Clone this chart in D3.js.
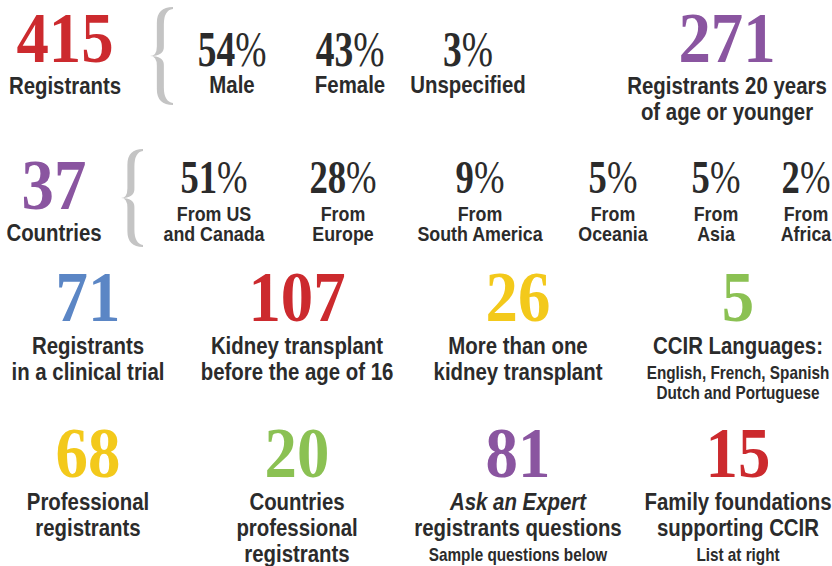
<!DOCTYPE html>
<html>
<head>
<meta charset="utf-8">
<script src="https://cdn.jsdelivr.net/npm/d3@7"></script>
<style>
  body { margin: 0; background: #fff; }
  svg { display: block; }
</style>
</head>
<body>
<div id="container"></div>
<script>
// window size
let cwW = 832;
let cwH = 566;

/**************************
* Data
**************************/
const statValues = ["415", "271", "37", "71", "107", "26", "5", "68", "20", "81", "15"];
const statLabels = [
  ["Registrants"],
  ["Registrants 20 years", "of age or younger"],
  ["Countries"],
  ["Registrants", "in a clinical trial"],
  ["Kidney transplant", "before the age of 16"],
  ["More than one", "kidney transplant"],
  ["CCIR Languages:"],
  ["Professional", "registrants"],
  ["Countries", "professional", "registrants"],
  ["Ask an Expert", "registrants questions"],
  ["Family foundations", "supporting CCIR"]
];
const statNotes = [[], [], [], [], [], [],
  ["English, French, Spanish", "Dutch and Portuguese"],
  [], [], ["Sample questions below"], ["List at right"]];
const italicLines = ["Ask an Expert"];

const genderShares = [54, 43, 3];
const genderLabels = [["Male"], ["Female"], ["Unspecified"]];

const regionShares = [51, 28, 9, 5, 5, 2];
const regionLabels = [
  ["From US", "and Canada"],
  ["From", "Europe"],
  ["From", "South America"],
  ["From", "Oceania"],
  ["From", "Asia"],
  ["From", "Africa"]
];

/**************************
* Layout + style
**************************/
const statSlot = ["total", "young", "countries", "g0", "g1", "g2", "g3", "g0", "g1", "g2", "g3"];
const statRow  = ["r1", "r1", "r2", "r3", "r3", "r3", "r3", "r4", "r4", "r4", "r4"];
const statColor = d3.scaleOrdinal()
  .domain(statValues)
  .range(["#cc2a2e", "#8a55a0", "#8a55a0", "#5b86c5", "#cc2a2e", "#f3c91b", "#8bc153",
          "#f3c91b", "#8bc153", "#8a55a0", "#cc2a2e"]);

const slotX = d3.scaleOrdinal()
  .domain(["total", "young", "countries", "g0", "g1", "g2", "g3"])
  .range([65, 727, 54, 88, 297, 518, 738]);
const numY = d3.scaleOrdinal().domain(["r1", "r2", "r3", "r4"]).range([62, 209, 321, 477]);
const labY = d3.scaleOrdinal().domain(["r1", "r2", "r3", "r4"]).range([94, 241, 354, 510]);

const genderX = d3.scalePoint().domain(d3.range(genderShares.length)).range([232, 468]);
const regionX = d3.scaleOrdinal().domain(d3.range(regionShares.length))
  .range([214, 343, 480, 613, 716, 806]);

const textCol = "#2b2b2b";
const serif = "'Liberation Serif', 'Times New Roman', serif";
const sans = "'Liberation Sans', Arial, sans-serif";
const bigSize = 72, bigSx = 0.9, labSx = 0.85;

let svgArea = d3.select("#container").append("svg")
  .attr("width", cwW).attr("height", cwH);

/**************************
* Helpers
**************************/
function drawNumber(x, y, txt, pct, size, sx, color) {
  let t = svgArea.append("g")
    .attr("transform", `translate(${x},${y}) scale(${sx},1)`)
    .append("text")
    .attr("text-anchor", "middle")
    .attr("font-family", serif)
    .attr("font-weight", "bold")
    .attr("font-size", size)
    .attr("fill", color)
    .text(txt);
  if (pct) t.append("tspan").attr("font-weight", "normal").text("%");
}

function drawLines(x, y, lines, size, step) {
  lines.forEach(function(s, i) {
    svgArea.append("g")
      .attr("transform", `translate(${x},${y + i * step}) scale(${labSx},1)`)
      .append("text")
      .attr("text-anchor", "middle")
      .attr("font-family", sans)
      .attr("font-weight", "bold")
      .attr("font-style", italicLines.includes(s) ? "italic" : "normal")
      .attr("font-size", size)
      .attr("fill", textCol)
      .text(s);
  });
}

function bracePath(w, h) {
  const cx = w * 0.45, t = 7, l = cx - t / 2, r = cx + t / 2, m = h / 2;
  return `M${w},0 Q${l},0 ${l},${h * 0.16} L${l},${m - h * 0.1}` +
    ` Q${l},${m} 0,${m} Q${l},${m} ${l},${m + h * 0.1} L${l},${h * 0.84}` +
    ` Q${l},${h} ${w},${h} L${w},${h - 2} Q${r},${h - 3} ${r},${h * 0.82}` +
    ` L${r},${m + h * 0.09} Q${r},${m} 0,${m} Q${r},${m} ${r},${m - h * 0.09}` +
    ` L${r},${h * 0.18} Q${r},3 ${w},2 Z`;
}

/**************************
* Draw
**************************/
function showData() {
  // braces
  [[150, 7, 23, 98], [121, 149, 22, 98]].forEach(function(b) {
    svgArea.append("path")
      .attr("transform", `translate(${b[0]},${b[1]})`)
      .attr("d", bracePath(b[2], b[3]))
      .attr("fill", "#c4c4c4");
  });

  // headline stats
  statValues.forEach(function(v, i) {
    const x = slotX(statSlot[i]);
    drawNumber(x, numY(statRow[i]), v, false, bigSize, bigSx, statColor(v));
    const ly = labY(statRow[i]);
    drawLines(x, ly, statLabels[i], 24, 26);
    if (statNotes[i].length) {
      drawLines(x, ly + (statLabels[i].length - 1) * 26 + 25, statNotes[i], 18, 20);
    }
  });

  // gender split
  genderShares.forEach(function(v, i) {
    drawNumber(genderX(i), 66, v, true, 50, 0.75, textCol);
    drawLines(genderX(i), 93, genderLabels[i], 24, 26);
  });

  // region split
  regionShares.forEach(function(v, i) {
    drawNumber(regionX(i), 193, v, true, 47, 0.78, textCol);
    drawLines(regionX(i), 221, regionLabels[i], 21, 20);
  });
}

showData();
</script>
</body>
</html>
